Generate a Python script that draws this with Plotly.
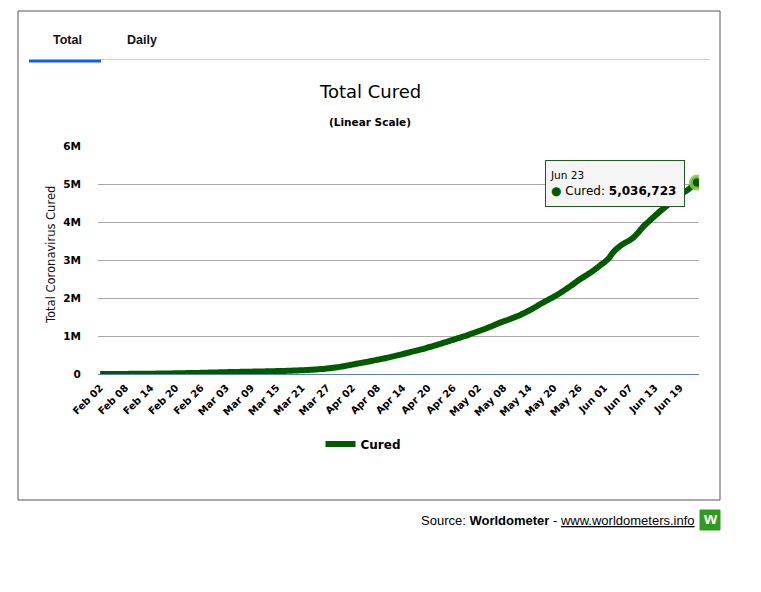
import plotly.graph_objects as go
import pandas as pd

# Dates (one per day, Feb 02 -> Jun 23, 2020)
dates = pd.date_range("2020-02-02", "2020-06-23", freq="D")

# Total cured
cured = [
    500, 650, 900, 1200, 1500, 2000, 2700, 3300, 4000, 4700,
    5200, 6300, 8100, 9400, 10900, 12600, 14400, 16100, 18200, 18900,
    22900, 23400, 25200, 27900, 30400, 33300, 36700, 39800, 42700, 45600,
    48200, 51200, 53800, 55900, 58400, 60700, 62500, 64400, 67000, 68300,
    70300, 72600, 76000, 78500, 81500, 85000, 89000, 93500, 98500, 104000,
    110000, 117000, 125000, 134000, 145000, 158000, 172000, 188000, 206000, 226000,
    247000, 268000, 290000, 310000, 330000, 352000, 375000, 398000, 420000, 445000,
    470000, 497000, 525000, 553000, 580000, 607000, 636000, 664000, 700000, 730000,
    762000, 795000, 830000, 865000, 900000, 935000, 970000, 1005000, 1045000, 1085000,
    1125000, 1165000, 1205000, 1250000, 1295000, 1345000, 1385000, 1420000, 1465000, 1510000,
    1555000, 1610000, 1665000, 1725000, 1790000, 1855000, 1915000, 1975000, 2035000, 2100000,
    2170000, 2245000, 2320000, 2400000, 2480000, 2550000, 2620000, 2690000, 2770000, 2860000,
    2940000, 3040000, 3190000, 3300000, 3390000, 3460000, 3520000, 3600000, 3720000, 3850000,
    3960000, 4060000, 4160000, 4260000, 4350000, 4440000, 4540000, 4640000, 4720000, 4790000,
    4860000, 4950000, 5036723,
]

y_ticks = [0, 1e6, 2e6, 3e6, 4e6, 5e6, 6e6]
y_labels = ["0", "1M", "2M", "3M", "4M", "5M", "6M"]

# plot area in page pixels (page body adds an 8px offset)
OFF = 8
L, R, T, B = 98, 699, 146, 374
W, H = 761, 592


def px(x):
    return (x - L) / (R - L)


def py(y):
    return (B - y) / (B - T)


DARK = "#005a00"
FONT = "DejaVu Sans"

fig = go.Figure()

fig.add_trace(go.Scatter(
    x=dates, y=cured, mode="lines", name="<b>Cured</b>",
    line=dict(color=DARK, width=6, shape="spline", smoothing=0.6, simplify=False),
    hoverinfo="skip",
))

fig.add_trace(go.Scatter(
    x=[dates[-1]], y=[cured[-1]], mode="markers", showlegend=False,
    marker=dict(size=12, color=DARK, line=dict(color="rgba(140,200,70,0.85)", width=4)),
    hoverinfo="skip",
))

shapes = [
    # outer frame
    dict(type="rect", xref="paper", yref="paper",
         x0=px(18), x1=px(720), y0=py(500), y1=py(11),
         line=dict(color="#555555", width=1)),
    # tab bar separator
    dict(type="line", xref="paper", yref="paper",
         x0=px(100), x1=px(710), y0=py(59.5), y1=py(59.5),
         line=dict(color="#cccccc", width=1)),
    # active tab underline
    dict(type="line", xref="paper", yref="paper",
         x0=px(29), x1=px(101), y0=py(61), y1=py(61),
         line=dict(color="#0d5cf2", width=3)),
    # logo
    dict(type="rect", xref="paper", yref="paper",
         x0=px(700), x1=px(720), y0=py(530), y1=py(510),
         fillcolor="#2f9a1f", line=dict(color="#2f9a1f", width=1)),
]

annotations = [
    dict(text="<b>Total</b>", x=px(67), y=py(40), xref="paper", yref="paper",
         showarrow=False, font=dict(family="Liberation Sans", size=12.5, color="#111"),
         xanchor="center", yanchor="middle"),
    dict(text="<b>Daily</b>", x=px(142), y=py(40), xref="paper", yref="paper",
         showarrow=False, font=dict(family="Liberation Sans", size=12.5, color="#111"),
         xanchor="center", yanchor="middle"),
    dict(text="Total Cured", x=px(370), y=py(92), xref="paper", yref="paper",
         showarrow=False, font=dict(family=FONT, size=18, color="#000"),
         xanchor="center", yanchor="middle"),
    dict(text="<b>(Linear Scale)</b>", x=px(370), y=py(122), xref="paper", yref="paper",
         showarrow=False, font=dict(family=FONT, size=10.5, color="#000"),
         xanchor="center", yanchor="middle"),
    dict(text="Total Coronavirus Cured", x=px(51), y=py(255), xref="paper", yref="paper",
         showarrow=False, textangle=-90, font=dict(family=FONT, size=11.5, color="#111"),
         xanchor="center", yanchor="middle"),
    # tooltip
    dict(text=("<span style='font-size:10.5px'>Jun 23</span><br>"
               "<span style='color:%s'>●</span> Cured: <b>5,036,723</b>" % DARK),
         x=px(545), y=py(160), xref="paper", yref="paper",
         showarrow=False, align="left", xanchor="left", yanchor="top",
         width=130, height=37, borderpad=4,
         bgcolor="#f5f5f5", bordercolor="#1d5e1d", borderwidth=1,
         font=dict(family=FONT, size=12, color="#000")),
    dict(text="Source: <b>Worldometer</b> - <u>www.worldometers.info</u>",
         x=px(697), y=py(520), xref="paper", yref="paper",
         showarrow=False, xanchor="right", yanchor="middle",
         font=dict(family="Liberation Sans", size=13, color="#000")),
    dict(text="<b>w</b>", x=px(710), y=py(519), xref="paper", yref="paper",
         showarrow=False, xanchor="center", yanchor="middle",
         font=dict(family="Liberation Sans", size=17, color="#ffffff")),
]

fig.update_layout(
    width=W, height=H,
    margin=dict(l=L - OFF, r=W - R + OFF, t=T - OFF, b=H - B + OFF, autoexpand=False),
    paper_bgcolor="white", plot_bgcolor="white",
    font=dict(family=FONT, color="#000"),
    showlegend=True,
    legend=dict(orientation="h", x=px(363), y=py(444), xanchor="center", yanchor="middle",
                font=dict(family=FONT, size=12, color="#000"), itemwidth=30),
    shapes=shapes,
    annotations=annotations,
)

fig.update_xaxes(
    type="date",
    range=["2020-02-01 12:00", "2020-06-23 12:00"],
    tick0="2020-02-02", dtick=6 * 86400000,
    tickformat="<b>%b %d</b>", tickangle=-45,
    tickfont=dict(family=FONT, size=10, color="#000"),
    showgrid=False, showline=True, linecolor="#5b7fc4", linewidth=1,
    ticks="outside", ticklen=3, tickcolor="white",
    zeroline=False, fixedrange=True,
)
fig.update_yaxes(
    range=[0, 6e6], tickvals=y_ticks, ticktext=[f"<b>{t}</b>" for t in y_labels],
    tickfont=dict(family=FONT, size=10.5, color="#000"),
    showgrid=True, gridcolor="#aaaaaa", gridwidth=1,
    ticks="outside", ticklen=14, tickcolor="white",
    zeroline=False, showline=False, fixedrange=True,
)

fig.write_html("out.html")
